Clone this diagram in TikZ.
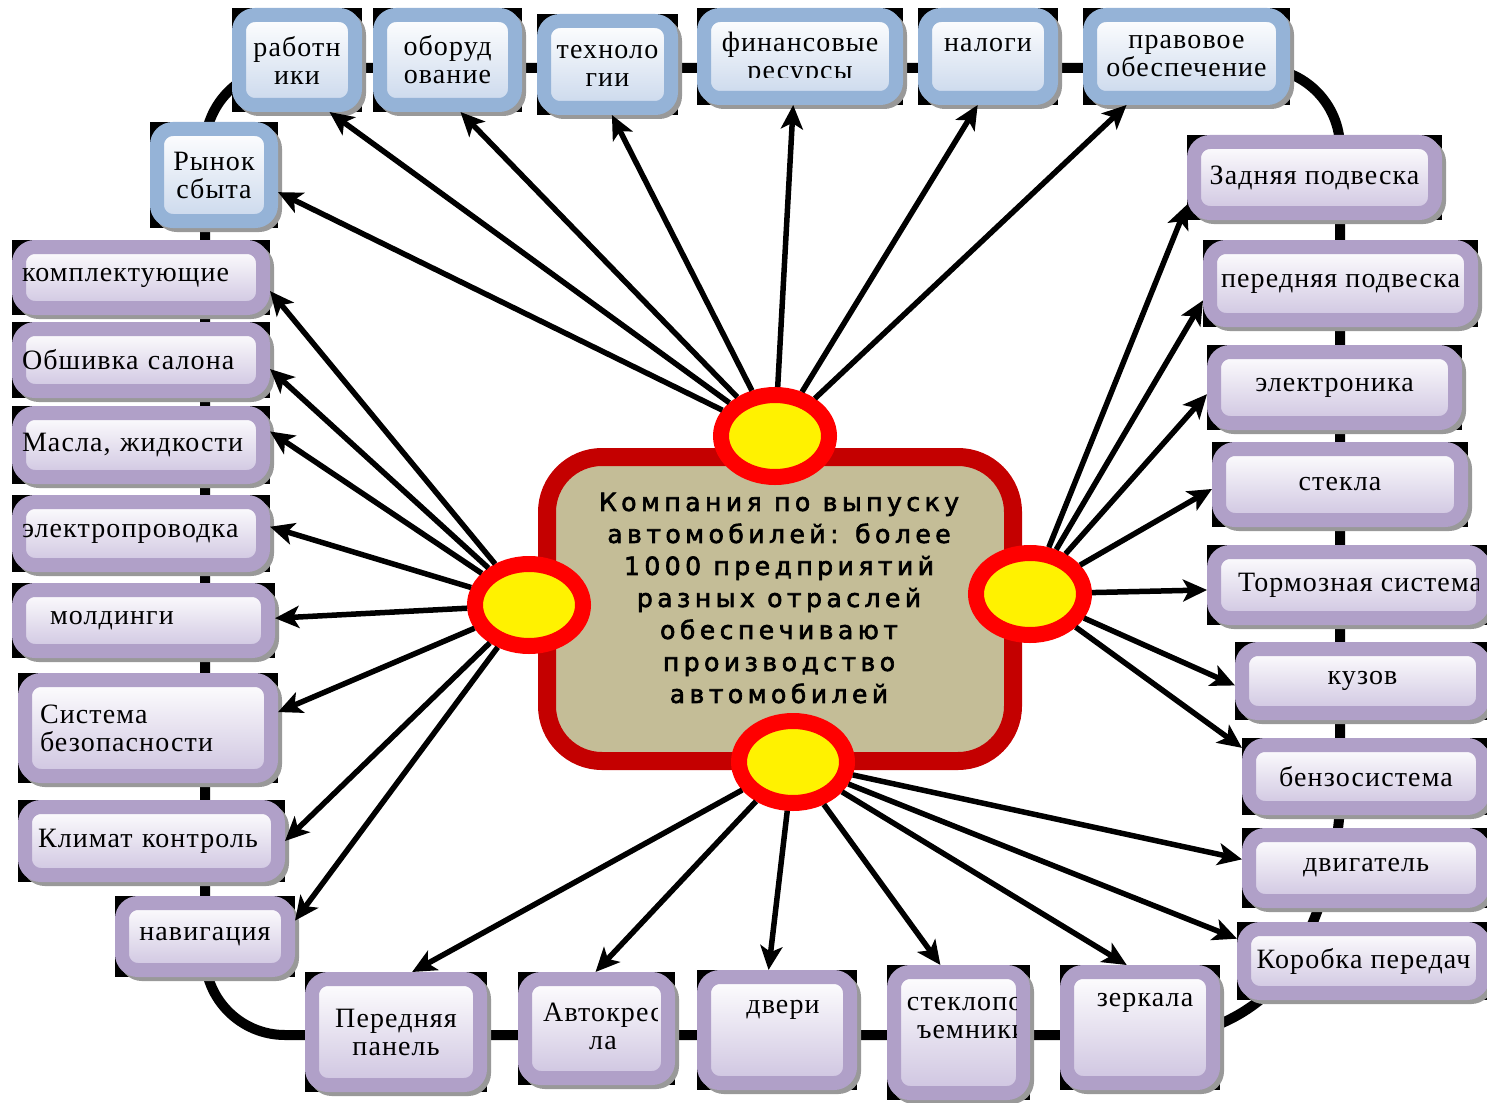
\documentclass[tikz,border=0pt]{standalone}
\usepackage{fontspec}
\usepackage{tikz}
\usetikzlibrary{arrows.meta,shapes.geometric,backgrounds,shadows}
\newfontfamily\partfont{Liberation Serif}[LetterSpace=4]
\newfontfamily\compfont{DejaVu Sans}[LetterSpace=18,FakeBold=2.5]
\definecolor{lilac}{RGB}{176,160,200}
\definecolor{lilacin}{RGB}{206,196,224}
\definecolor{steel}{RGB}{149,179,215}
\definecolor{steelin}{RGB}{202,216,236}
\definecolor{compfill}{RGB}{196,189,151}
\definecolor{compred}{RGB}{196,0,0}
\definecolor{hubred}{RGB}{255,0,0}

\tikzset{
  part/.style={draw=lilac, line width=14pt, rounded corners=16pt, top color=white, bottom color=lilacin,
    inner sep=0pt, align=center, font=\partfont\fontsize{28}{28}\selectfont,
    drop shadow={shadow xshift=4pt, shadow yshift=-4pt, draw=black!40, fill=black!40, line width=14pt, opacity=1}},
  res/.style={part, draw=steel, bottom color=steelin},
  word/.style={inner sep=0pt, align=center, font=\partfont\fontsize{28}{28}\selectfont},
  comp/.style={draw=compred, line width=18pt, fill=compfill, rounded corners=55pt, inner sep=0pt},
  compword/.style={inner sep=0pt, align=center, font=\compfont\fontsize{25}{32}\selectfont},
  hub/.style={ellipse, draw=hubred, line width=16pt, fill=yellow, minimum width=108pt, minimum height=82pt, inner sep=0pt},
  feed/.style={line width=5.5pt, -{Stealth[length=24pt,width=22pt,inset=6pt]}},
  ring/.style={line width=10pt, rounded corners=80pt}
}

\begin{document}
\begin{tikzpicture}[x=1pt, y=-1pt]
  \useasboundingbox (0,0) rectangle (1487,1102);

  % centre
  \node[comp, minimum width=466pt, minimum height=304pt] (comp) at (780,609) {};
  \node[compword] (comp-t) at (779,598)
    {Компания по выпуску\\автомобилей: более\\1000 предприятий\\разных отраслей\\обеспечивают\\производство\\автомобилей};
  \node[hub] (hT) at (775,436) {};
  \node[hub] (hL) at (529,605) {};
  \node[hub] (hR) at (1030,594) {};
  \node[hub] (hB) at (793,762) {};

  % resources (top)
  \node[res, minimum width=116pt, minimum height=90pt] (rab) at (297,60) {работн\\ики};
  \node[res, minimum width=135pt, minimum height=90pt] (obor) at (447.5,60) {оборуд\\ование};
  \node[res, minimum width=127pt, minimum height=87pt] (tech) at (607.5,64.5) {};
  \node[res, minimum width=192pt, minimum height=83pt] (fin) at (800,56.5) {};
  \node[res, minimum width=126pt, minimum height=83pt] (nal) at (988,56.5) {};
  \node[res, minimum width=193pt, minimum height=83pt] (prav) at (1186.5,56.5) {правовое\\обеспечение};
  \node[res, minimum width=114pt, minimum height=92pt] (ryn) at (214,175) {Рынок\\сбыта};

  % left column
  \node[part, minimum width=244pt, minimum height=61pt, text width=238pt, inner xsep=3pt, align=left] (komp) at (141,277.5) {комплектующие};
  \node[part, minimum width=244pt, minimum height=62pt, text width=238pt, inner xsep=3pt, align=left] (obsh) at (141,360) {Обшивка салона};
  \node[part, minimum width=244pt, minimum height=64pt, text width=238pt, inner xsep=3pt, align=left] (masla) at (141,445) {Масла, жидкости};
  \node[part, minimum width=244pt, minimum height=63pt, text width=238pt, inner xsep=3pt, align=left] (elpr) at (141,533.5) {электропроводка};
  \node[part, minimum width=249pt, minimum height=61pt, text width=187pt, inner xsep=31pt, align=left] (mold) at (143.5,620.5) {молдинги};
  \node[part, minimum width=246pt, minimum height=96pt, text width=216pt, inner xsep=15pt, align=left] (sist) at (148,728) {Система\\безопасности};
  \node[part, minimum width=253pt, minimum height=68pt, text width=227pt, inner xsep=13pt, align=left] (klim) at (151.5,841) {Климат контроль};
  \node[part, minimum width=166pt, minimum height=67pt] (navi) at (205,936.5) {навигация};

  % bottom row
  \node[part, minimum width=168pt, minimum height=106pt] (pan) at (396,1032) {Передняя\\панель};
  \node[part, minimum width=143pt, minimum height=99pt] (avto) at (596.5,1028.5) {};
  \node[part, minimum width=146pt, minimum height=106pt] (dver) at (777,1030) {};
  \node[part, minimum width=129pt, minimum height=121pt] (stek) at (958.5,1032.5) {};
  \node[part, minimum width=146pt, minimum height=111pt] (zerk) at (1140,1027.5) {};

  % right column
  \node[part, minimum width=241pt, minimum height=71pt] (zadn) at (1314.5,177.5) {Задняя подвеска};
  \node[part, minimum width=261pt, minimum height=73pt] (pern) at (1340.5,283.5) {передняя подвеска};
  \node[part, minimum width=241pt, minimum height=71pt] (elek) at (1334.5,387.5) {электроника};
  \node[part, minimum width=242pt, minimum height=71pt] (stk) at (1340,484.5) {стекла};
  \node[part, minimum width=269pt, minimum height=66pt] (torm) at (1348.5,585) {};
  \node[part, minimum width=241pt, minimum height=64pt] (kuz) at (1362.5,681) {кузов};
  \node[part, minimum width=234pt, minimum height=63pt] (benz) at (1366,776.5) {бензосистема};
  \node[part, minimum width=234pt, minimum height=66pt] (dvig) at (1366,868) {двигатель};
  \node[part, minimum width=239pt, minimum height=64pt] (korb) at (1363.5,961) {Коробка передач};

  % texts cut by their boxes
  \begin{scope}
    \clip[rounded corners=5pt] ([shift={(14pt,14pt)}]tech.south west) rectangle ([shift={(-20pt,-14pt)}]tech.north east);
    \node[word] (tech-t) at (607.5,66) {техноло\\гии};
  \end{scope}
  \begin{scope}
    \clip[rounded corners=5pt] ([shift={(14pt,27pt)}]fin.south west) rectangle ([shift={(-14pt,-14pt)}]fin.north east);
    \node[word] (fin-t) at (800,59) {финансовые\\ресурсы};
  \end{scope}
  \node[word] (nal-t) at (988,45) {налоги};
  \begin{scope}
    \clip[rounded corners=5pt] ([shift={(14pt,14pt)}]avto.south west) rectangle ([shift={(-18pt,-14pt)}]avto.north east);
    \node[word] (avto-t) at (603,1026) {Автокрес\\ла};
  \end{scope}
  \node[word] (dver-t) at (783,1010) {двери};
  \begin{scope}
    \clip[rounded corners=5pt] ([shift={(14pt,14pt)}]stek.south west) rectangle ([shift={(-14pt,-14pt)}]stek.north east);
    \node[word] (stek-t) at (972,1018) {стеклопод\\ъемники};
  \end{scope}
  \node[word] (zerk-t) at (1145,1003) {зеркала};
  \begin{scope}
    \clip[rounded corners=5pt] ([shift={(14pt,14pt)}]torm.south west) rectangle ([shift={(-12pt,-14pt)}]torm.north east);
    \node[word, anchor=west] (torm-t) at (1238,585) {Тормозная система};
  \end{scope}

  % arrows
  \draw[feed] (hT) -- (rab.-58);
  \draw[feed] (hT) -- (obor.-76);
  \draw[feed] (hT) -- (tech.-85);
  \draw[feed] (hT) -- (fin.-98);
  \draw[feed] (hT) -- (nal.-102);
  \draw[feed] (hT) -- (prav.-141);
  \draw[feed] (hT) -- (ryn.-15);

  \draw[feed] (hL) -- (komp.-6);
  \draw[feed] (hL) -- (obsh.-4);
  \draw[feed] (hL) -- (masla.6);
  \draw[feed] (hL) -- (elpr.3);
  \draw[feed] (hL) -- (mold.1);
  \draw[feed] (hL) -- (sist.7);
  \draw[feed] (hL) -- (klim.0);
  \draw[feed] (hL) -- (navi.10);

  \draw[feed] (hB) -- (pan.75);
  \draw[feed] (hB) -- (avto.91);
  \draw[feed] (hB) -- (dver.98);
  \draw[feed] (hB) -- (stek.105);
  \draw[feed] (hB) -- (zerk.102);
  \draw[feed] (hB) -- (dvig.176);
  \draw[feed] (hB) -- (korb.170);

  \draw[feed] (hR) -- (zadn.192);
  \draw[feed] (hR) -- (pern.187);
  \draw[feed] (hR) -- (elek.183);
  \draw[feed] (hR) -- (stk.182);
  \draw[feed] (hR) -- (torm.182);
  \draw[feed] (hR) -- (kuz.182);
  \draw[feed] (hR) -- (benz.167);

  \begin{scope}[on background layer]
    \draw[ring] (205,68) -- (1340,68) -- (1340,880) -- (1250,1035) -- (205,1035) -- cycle;
    \foreach \n in {rab,obor,tech,fin,nal,prav,ryn,komp,obsh,masla,elpr,mold,sist,klim,navi,
                    pan,avto,dver,stek,zerk,zadn,pern,elek,stk,torm,kuz,benz,dvig,korb}
      \fill (\n.south west) rectangle (\n.north east);
  \end{scope}
\end{tikzpicture}
\end{document}
